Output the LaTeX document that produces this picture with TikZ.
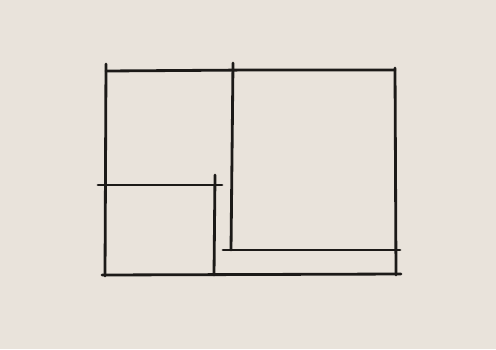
\documentclass[tikz,border=0pt]{standalone}
\usepackage{tikz}
\usetikzlibrary{positioning}
\definecolor{PaperBeige}{RGB}{233, 227, 219}
\definecolor{InkBlack}{RGB}{28, 26, 24}

\begin{document}
\begin{tikzpicture}[x=0.02cm,y=-0.02cm,sketch/.style={draw=InkBlack,line width=1.6pt,line cap=round}]
    \fill[PaperBeige] (0,0) rectangle (496,349);
    \useasboundingbox (0,0) rectangle (496,349);
    % outer frame
    \draw[sketch] (106,64) -- (105,276);
    \draw[sketch] (106,71) -- (250,70) -- (395,70);
    \draw[sketch] (395,68) -- (396,275);
    \draw[sketch] (102,275) -- (401,274);
    % right box
    \draw[sketch] (233,63) -- (231,250);
    \draw[sketch] (223,250) -- (400,250);
    % lower left box
    \draw[sketch] (98,185) -- (222,185);
    \draw[sketch] (215,175) -- (214,275);
  \end{tikzpicture}
\end{document}
